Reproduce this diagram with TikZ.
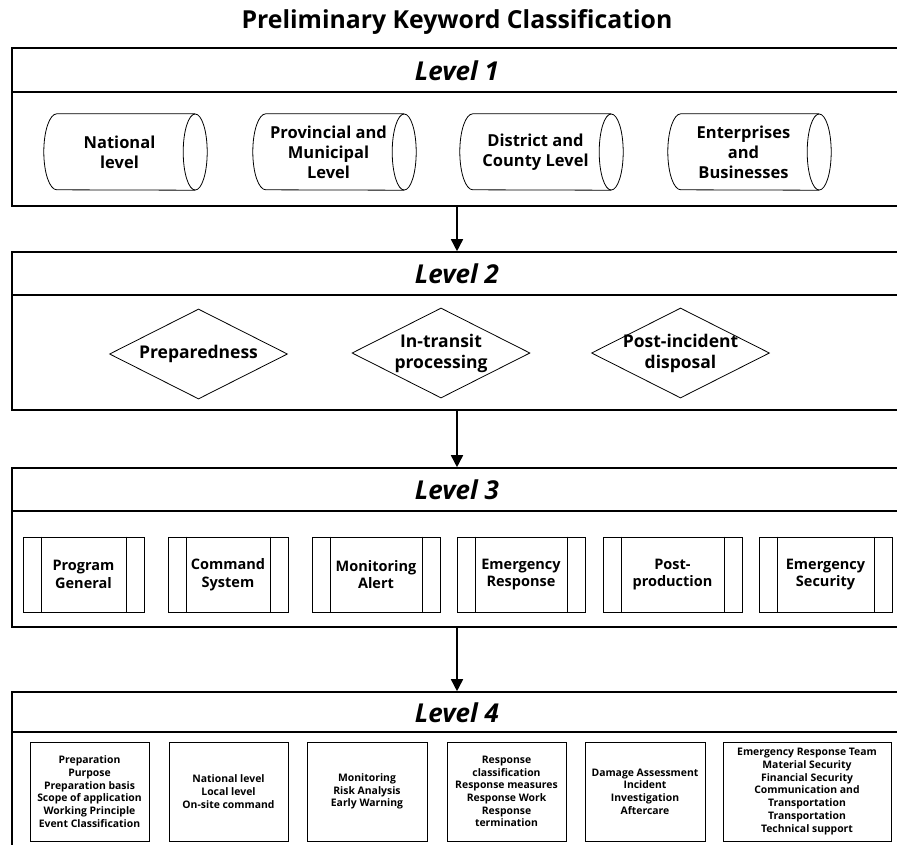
\documentclass[tikz,border=0pt]{standalone}
\usepackage{fontspec}
\setmainfont{Open Sans}
\usetikzlibrary{shapes.geometric,arrows.meta}
\begin{document}
\begin{tikzpicture}[x=1pt,y=-1pt,
  frame/.style={draw, line width=1.6pt, rectangle, inner sep=0, minimum width=890pt},
  rule/.style={line width=1.6pt},
  thin/.style={line width=0.8pt},
  arr/.style={line width=1.6pt, -{Triangle[width=12pt,length=12pt]}},
  ttl/.style={font=\fontsize{24.8}{29}\selectfont\bfseries},
  hdr/.style={font=\fontsize{26}{30}\selectfont\bfseries\itshape},
  drum/.style={rectangle, inner sep=0, minimum width=151pt, minimum height=76pt, align=center,
    font=\fontsize{16.5}{20}\selectfont\bfseries},
  dia/.style={diamond, draw, thin, inner sep=-6pt, aspect=2, minimum width=178pt, minimum height=90pt,
    align=center, font=\fontsize{17.5}{21}\selectfont\bfseries},
  proc/.style={rectangle, draw, thin, inner sep=0, minimum height=75pt, align=center,
    font=\fontsize{14.5}{17.5}\selectfont\bfseries},
  leaf/.style={rectangle, draw, line width=1pt, inner sep=0, minimum height=99pt, align=center,
    font=\fontsize{10.4}{12.7}\selectfont\bfseries},
]
\useasboundingbox (0,0) rectangle (897,844);
\clip (0,0) rectangle (897,844);

% title
\node[ttl] (title) at (457,22) {Preliminary Keyword Classification};

% level frames with their header rules
\node[frame, minimum height=158pt] (L1) at (457,127) {};
\node[frame, minimum height=158pt] (L2) at (457,331) {};
\node[frame, minimum height=159pt] (L3) at (457,547.5) {};
\node[frame, minimum height=200pt] (L4) at (457,792) {};
\draw[rule] ([yshift=-45pt]L1.north west) -- ([yshift=-45pt]L1.north east);
\draw[rule] ([yshift=-44pt]L2.north west) -- ([yshift=-44pt]L2.north east);
\draw[rule] ([yshift=-44pt]L3.north west) -- ([yshift=-44pt]L3.north east);
\draw[rule] ([yshift=-41pt]L4.north west) -- ([yshift=-41pt]L4.north east);

\node[hdr] (h1) at (457,71) {Level 1};
\node[hdr] (h2) at (457,274) {Level 2};
\node[hdr] (h3) at (457,490) {Level 3};
\node[hdr] (h4) at (457,713) {Level 4};

% links between levels
\draw[arr] (L1.south) -- (L2.north);
\draw[arr] (L2.south) -- (L3.north);
\draw[arr] (L3.south) -- (L4.north);

% level 1: horizontal drums
\foreach \cx/\nm/\txt in {119.5/d1/{National\\level},
                          328.5/d2/{Provincial and\\Municipal\\Level},
                          535.5/d3/{District and\\County Level},
                          743.5/d4/{Enterprises\\and\\Businesses}} {
  \node[drum] (\nm) at (\cx,152) {\txt};
  \draw[thin] ([xshift=13pt]\nm.north west) -- (\nm.north east)
              ([xshift=13pt]\nm.north west) arc[start angle=90, end angle=270, x radius=13pt, y radius=38pt]
              -- (\nm.south east);
  \draw[thin] (\nm.east) ellipse [x radius=12pt, y radius=38pt];
}

% level 2: decisions
\node[dia] (p1) at (198.5,354) {Preparedness};
\node[dia] (p2) at (441,353) {In-transit\\processing};
\node[dia] (p3) at (680.5,353) {Post-incident\\disposal};

% level 3: predefined processes
\foreach \cx/\w/\nm/\txt in {83.5/121/s1/{Program\\General},
                             228/120/s2/{Command\\System},
                             376/128/s3/{Monitoring\\Alert},
                             521/128/s4/{Emergency\\Response},
                             672.5/139/s5/{Post-\\production},
                             825.5/133/s6/{Emergency\\Security}} {
  \node[proc, minimum width=\w pt] (\nm) at (\cx,574.5) {\txt};
  \draw[thin] ([xshift=18.5pt]\nm.north west) -- ([xshift=18.5pt]\nm.south west)
              ([xshift=-18.5pt]\nm.north east) -- ([xshift=-18.5pt]\nm.south east);
}

% level 4: item lists
\node[leaf, minimum width=119pt] (t1) at (89.5,791.5)
  {Preparation\\Purpose\\Preparation basis\\Scope of application\\Working Principle\\Event Classification};
\node[leaf, minimum width=119pt] (t2) at (228.5,791.5)
  {National level\\Local level\\On-site command};
\node[leaf, minimum width=120pt] (t3) at (367,791.5)
  {Monitoring\\Risk Analysis\\Early Warning};
\node[leaf, minimum width=119pt] (t4) at (506.5,791.5)
  {Response\\classification\\Response measures\\Response Work\\Response\\termination};
\node[leaf, minimum width=120pt] (t5) at (645,791.5)
  {Damage Assessment\\Incident\\Investigation\\Aftercare};
\node[leaf, minimum width=168pt] (t6) at (807,791.5)
  {Emergency Response Team\\Material Security\\Financial Security\\Communication and\\Transportation\\Transportation\\Technical support};
\end{tikzpicture}
\end{document}
